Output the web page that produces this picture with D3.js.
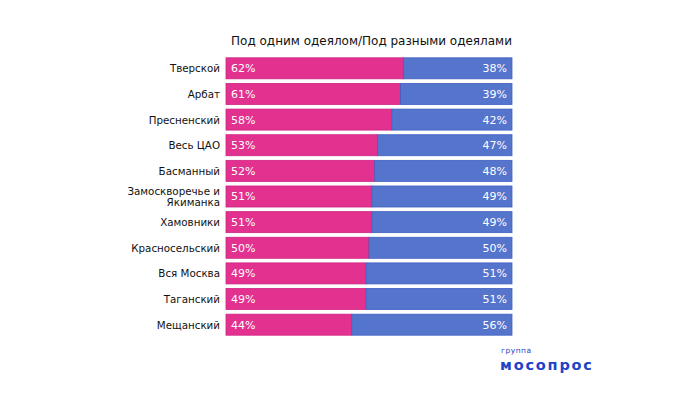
<!DOCTYPE html>
<html>
<head>
<meta charset="utf-8">
<script src="https://cdn.jsdelivr.net/npm/d3@7"></script>
<style>
  body { margin: 0; background: #fff; }
  svg { display: block; font-family: "DejaVu Sans", sans-serif; }
</style>
</head>
<body>
<script>
  // data
  const districts = ['Тверской', 'Арбат', 'Пресненский', 'Весь ЦАО', 'Басманный',
    'Замоскворечье и\nЯкиманка', 'Хамовники', 'Красносельский', 'Вся Москва',
    'Таганский', 'Мещанский'];
  const together = [62, 61, 58, 53, 52, 51, 51, 50, 49, 49, 44];
  const apart = [38, 39, 42, 47, 48, 49, 49, 50, 51, 51, 56];

  const width = 700, height = 393;
  const svg = d3.select('body').append('svg')
    .attr('width', width)
    .attr('height', height);

  svg.append('text')
    .attr('x', 371.5)
    .attr('y', 45)
    .attr('text-anchor', 'middle')
    .attr('font-size', 12)
    .attr('fill', '#111')
    .text('Под одним одеялом/Под разными одеялами');

  const x = d3.scaleLinear().domain([0, 100]).range([226, 512]);
  const y = d3.scaleBand().domain(districts).range([55.5, 337.5]).paddingInner(0.18).paddingOuter(0.09);

  const rows = svg.append('g').selectAll('g')
    .data(districts)
    .join('g')
    .attr('transform', d => 'translate(0,' + y(d) + ')');

  rows.append('rect')
    .attr('x', x(0))
    .attr('width', (d, i) => x(together[i]) - x(0))
    .attr('height', y.bandwidth())
    .attr('fill', '#e2318f')
    .attr('stroke', '#cf2380')
    .attr('stroke-width', 0.8);

  rows.append('rect')
    .attr('x', (d, i) => x(together[i]))
    .attr('width', (d, i) => x(100) - x(together[i]))
    .attr('height', y.bandwidth())
    .attr('fill', '#5575cd')
    .attr('stroke', '#3f5fc2')
    .attr('stroke-width', 0.8);

  rows.append('text')
    .attr('x', x(0) + 5)
    .attr('y', y.bandwidth() / 2 + 4)
    .attr('font-size', 11)
    .attr('fill', '#fff')
    .text((d, i) => together[i] + '%');

  rows.append('text')
    .attr('x', x(100) - 5)
    .attr('y', y.bandwidth() / 2 + 4)
    .attr('text-anchor', 'end')
    .attr('font-size', 11)
    .attr('fill', '#fff')
    .text((d, i) => apart[i] + '%');

  // category labels, may wrap to two lines
  rows.append('text')
    .attr('text-anchor', 'end')
    .attr('font-size', 10.3)
    .attr('fill', '#111')
    .each(function(d) {
      const lines = d.split('\n');
      const t = d3.select(this);
      const y0 = y.bandwidth() / 2 + 4 - (lines.length - 1) * 6;
      lines.forEach((line, k) => {
        t.append('tspan')
          .attr('x', 220)
          .attr('y', y0 + k * 12)
          .text(line);
      });
    });

  // logo
  const logo = svg.append('g').attr('fill', '#1f43c8');
  logo.append('text')
    .attr('x', 501)
    .attr('y', 353)
    .attr('font-size', 7.5)
    .attr('letter-spacing', 0.5)
    .text('группа');
  logo.append('text')
    .attr('x', 500)
    .attr('y', 370)
    .attr('font-size', 14.5)
    .attr('font-weight', 'bold')
    .attr('letter-spacing', 1.8)
    .text('мосопрос');
</script>
</body>
</html>
